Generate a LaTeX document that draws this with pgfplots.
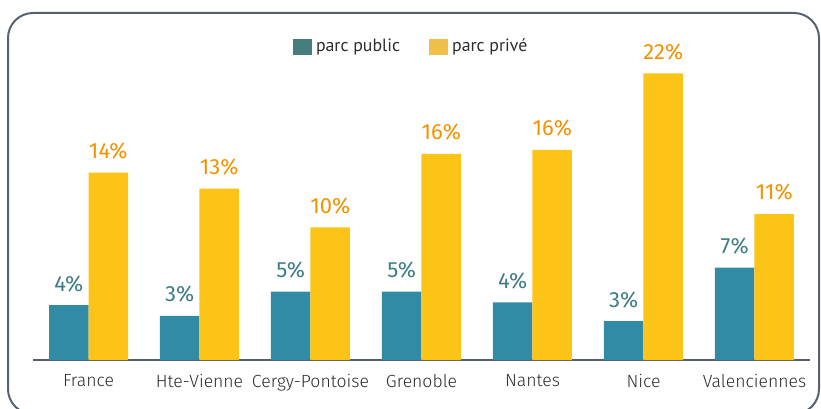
\documentclass[border=0pt]{standalone}
\usepackage{pgfplots}
\pgfplotsset{compat=1.18}
\usepackage{fontspec}
\setmainfont{Fira Sans Light}
\newfontfamily\medfont{Fira Sans}
\newfontfamily\legfont{PT Sans}
\definecolor{pubbar}{RGB}{49,139,165}
\definecolor{privbar}{RGB}{252,196,23}
\definecolor{publab}{RGB}{62,125,132}
\definecolor{privlab}{RGB}{243,146,0}
\definecolor{publeg}{RGB}{70,126,126}
\definecolor{privleg}{RGB}{241,190,72}
\definecolor{axisgray}{RGB}{85,95,107}
\definecolor{framegray}{RGB}{88,98,110}
\definecolor{txt}{RGB}{45,45,45}
\newlength\px
\setlength\px{0.5pt}
\begin{document}
\begin{tikzpicture}
\useasboundingbox (0,0) rectangle (821\px,408\px);
\draw[framegray, line width=1pt, rounded corners=25\px] (8\px,395\px) rectangle (819\px,-6\px);
\begin{axis}[
  at={(33\px,48\px)}, anchor=south west,
  scale only axis,
  width=777\px, height=320\px,
  ybar, bar width=39.5\px,
  xmin=-0.5, xmax=6.5, ymin=0, ymax=23.9,
  hide y axis,
  axis x line*=bottom,
  x axis line style={-, axisgray, line width=1.1pt},
  xtick=data, major tick length=0pt,
  xticklabels={France,Hte-Vienne,Cergy-Pontoise,Grenoble,Nantes,Nice,Valenciennes},
  xticklabel style={font=\fontsize{8.8}{10}\selectfont, text=txt, yshift=-7\px},
  point meta=explicit symbolic,
  nodes near coords,
  nodes near coords style={font=\medfont\fontsize{11}{12}\selectfont, anchor=south, inner sep=0pt, yshift=13\px},
  legend columns=2,
  legend style={at={(0.488,0.978)}, anchor=center, draw=none, fill=none,
    font=\legfont\fontsize{8.9}{10}\selectfont, text=txt,
    /tikz/every even column/.append style={column sep=25\px}},
  legend image code/.code={\fill[#1] (0pt,-8\px) rectangle (19\px,8\px);},
  clip=false,
]
\addplot[fill=pubbar, draw=none, forget plot, bar shift=-19.75\px, nodes near coords style={text=publab}] coordinates {
  (0,4.1) [4\%] (1,3.3) [3\%] (2,5.1) [5\%] (3,5.1) [5\%] (4,4.3) [4\%] (5,2.9) [3\%] (6,6.9) [7\%]};
\addplot[fill=privbar, draw=none, forget plot, bar shift=19.75\px, nodes near coords style={text=privlab}] coordinates {
  (0,14.0) [14\%] (1,12.8) [13\%] (2,9.9) [10\%] (3,15.4) [16\%] (4,15.7) [16\%] (5,21.4) [22\%] (6,10.9) [11\%]};
\addlegendimage{fill=publeg, draw=none}
\addlegendentry{parc public}
\addlegendimage{fill=privleg, draw=none}
\addlegendentry{parc privé}
\end{axis}
\end{tikzpicture}
\end{document}
